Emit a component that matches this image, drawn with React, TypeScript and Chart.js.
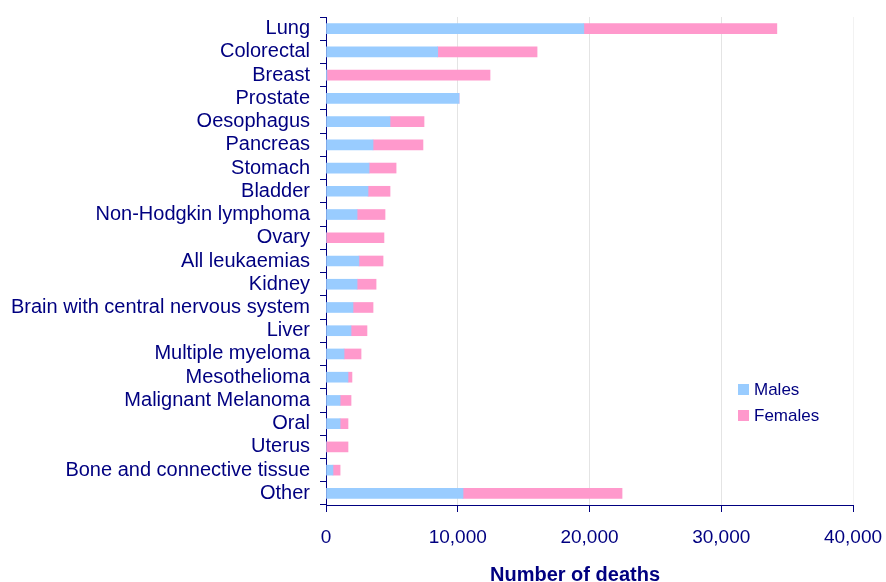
import React, { useEffect, useRef } from "react";
import { Chart, registerables } from "chart.js";

Chart.register(...registerables);

const categories = [
  "Lung",
  "Colorectal",
  "Breast",
  "Prostate",
  "Oesophagus",
  "Pancreas",
  "Stomach",
  "Bladder",
  "Non-Hodgkin lymphoma",
  "Ovary",
  "All leukaemias",
  "Kidney",
  "Brain with central nervous system",
  "Liver",
  "Multiple myeloma",
  "Mesothelioma",
  "Malignant Melanoma",
  "Oral",
  "Uterus",
  "Bone and connective tissue",
  "Other",
];

const males = [
  19570, 8480, 70, 10100, 4860, 3570, 3270, 3190, 2360, 0, 2500, 2360, 2050,
  1900, 1370, 1670, 1070, 1070, 0, 530, 10400,
];

const females = [
  14650, 7540, 12380, 0, 2580, 3790, 2050, 1670, 2120, 4400, 1830, 1440, 1520,
  1210, 1290, 300, 830, 600, 1670, 540, 12070,
];

const xTicks = [0, 10000, 20000, 30000, 40000];
const seriesNames = ["Males", "Females"];
const seriesColors = ["#99CCFF", "#FF99CC"];
const xTitle = "Number of deaths";

const NAVY = "#000080";
const FONT = "'Liberation Sans', Arial, sans-serif";

function fmt(v: number): string {
  return String(Math.round(v)).replace(/\B(?=(\d{3})+(?!\d))/g, ",");
}

const legendPlugin = {
  id: "customLegend",
  afterDraw(chart: any) {
    const ctx = chart.ctx;
    ctx.save();
    const x = 738;
    const ys = [390, 416];
    ctx.font = `17px ${FONT}`;
    ctx.textBaseline = "middle";
    ctx.textAlign = "left";
    chart.data.datasets.forEach((ds: any, i: number) => {
      ctx.fillStyle = ds.backgroundColor;
      ctx.fillRect(x, ys[i] - 6, 11, 11);
      ctx.fillStyle = NAVY;
      ctx.fillText(ds.label, x + 16, ys[i]);
    });
    // x-axis title
    ctx.font = `bold 20px ${FONT}`;
    ctx.textAlign = "center";
    ctx.textBaseline = "alphabetic";
    ctx.fillText(xTitle, 575, 581);
    ctx.restore();
  },
};

export default function App() {
  const ref = useRef<HTMLCanvasElement | null>(null);

  useEffect(() => {
    if (!ref.current) return;
    const chart = new Chart(ref.current, {
      type: "bar",
      data: {
        labels: categories,
        datasets: [
          {
            label: seriesNames[0],
            data: males,
            backgroundColor: seriesColors[0],
            borderWidth: 0,
            barThickness: 10,
          },
          {
            label: seriesNames[1],
            data: females,
            backgroundColor: seriesColors[1],
            borderWidth: 0,
            barThickness: 10,
          },
        ],
      },
      options: {
        indexAxis: "y",
        responsive: false,
        animation: false,
        devicePixelRatio: 1,
        layout: { padding: { left: 0, top: 17, right: 33, bottom: 0 } },
        plugins: {
          legend: { display: false },
          tooltip: { enabled: false },
        },
        scales: {
          x: {
            stacked: true,
            min: 0,
            max: 40000,
            afterBuildTicks: (scale: any) => {
              scale.ticks = xTicks.map((v) => ({ value: v }));
            },
            afterFit: (scale: any) => {
              scale.height = 77;
              scale.paddingLeft = 0;
              scale.paddingRight = 0;
              scale.paddingTop = 0;
              scale.paddingBottom = 0;
            },
            border: { display: true, color: NAVY, width: 1 },
            grid: {
              color: (c: any) => (c.tick && c.tick.value === 40000 ? "#f2f2f2" : "#e4e4e4"),
              tickColor: NAVY,
              tickLength: 7,
              lineWidth: 1,
            },
            ticks: {
              color: NAVY,
              font: { family: FONT, size: 19 },
              padding: 14,
              callback: (v: any) => fmt(Number(v)),
              maxRotation: 0,
              autoSkip: false,
            },
          },
          y: {
            stacked: true,
            afterFit: (scale: any) => {
              scale.width = 326;
              scale.paddingLeft = 0;
              scale.paddingRight = 0;
              scale.paddingTop = 0;
              scale.paddingBottom = 0;
            },
            border: { display: true, color: NAVY, width: 1 },
            grid: {
              drawOnChartArea: false,
              offset: true,
              color: NAVY,
              tickColor: NAVY,
              tickLength: 6,
            },
            ticks: {
              color: NAVY,
              font: { family: FONT, size: 20 },
              padding: 10,
              autoSkip: false,
            },
          },
        },
      },
      plugins: [legendPlugin],
    } as any);
    return () => chart.destroy();
  }, []);

  return (
    <div style={{ position: "absolute", left: 0, top: 0, width: 886, height: 582, background: "#fff" }}>
      <canvas ref={ref} width={886} height={582} style={{ display: "block", width: 886, height: 582 }} />
    </div>
  );
}
